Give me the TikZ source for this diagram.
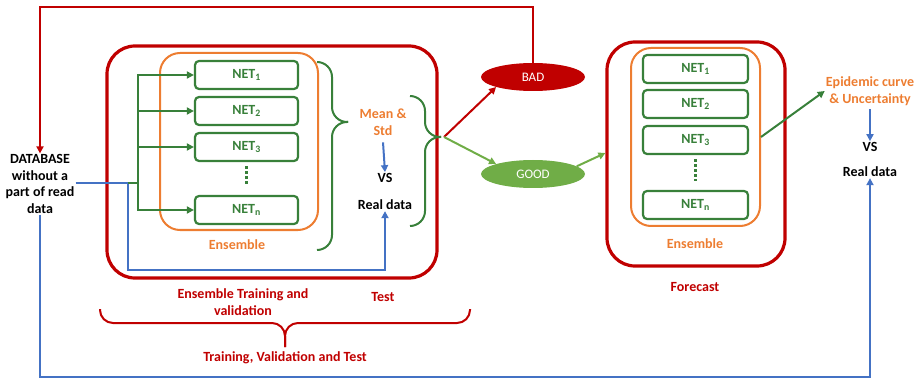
\documentclass[tikz,border=0pt]{standalone}
\usepackage{fontspec}
\setmainfont{Carlito}
\usepackage{tikz}
\usetikzlibrary{arrows.meta,positioning,shapes.geometric,calc}

\definecolor{myred}{HTML}{C00000}
\definecolor{myorange}{HTML}{ED7D31}
\definecolor{mygreen}{HTML}{38803A}
\definecolor{lightgreen}{HTML}{70AD47}
\definecolor{myblue}{HTML}{4472C4}

\begin{document}
\begin{tikzpicture}[
    x=1pt,
    y=-1pt,
    font=\fontsize{14}{16.5}\selectfont\bfseries,
    redbox/.style={draw=myred, line width=3.2pt, rounded corners=28pt},
    ensbox/.style={draw=myorange, line width=2pt, rounded corners=20pt},
    netbox/.style={draw=mygreen, line width=2.2pt, rounded corners=4pt, text=mygreen,
      minimum height=28pt, inner sep=0pt},
    dots/.style={mygreen, line width=3.6pt, dash pattern=on 3pt off 2pt},
    lab/.style={align=center, inner sep=1pt},
    tipstyle/.style={-{Triangle[length=7pt,width=7pt]}},
    garr/.style={mygreen, line width=2pt, tipstyle},
    barr/.style={myblue, line width=2pt, tipstyle},
    rarr/.style={myred, line width=2pt, tipstyle},
    larr/.style={lightgreen, line width=2pt, tipstyle},
    gbrace/.style={mygreen, line width=2pt, rounded corners=15pt},
    rbrace/.style={myred, line width=2pt, rounded corners=13pt},
    verdict/.style={ellipse, minimum width=104pt, minimum height=28pt, text=white,
      font=\fontsize{13}{15}\selectfont}
  ]
    \useasboundingbox (0,0) rectangle (917,379);

    % Database
    \node[lab] (db) at (40,184) {DATABASE\\without a\\part of read\\data};

    % Ensemble training and test
    \node[redbox, minimum width=330pt, minimum height=232pt] (box1) at (272,162) {};
    \node[ensbox, minimum width=158pt, minimum height=177pt] (ens1) at (239,141.5) {};
    \node[netbox, minimum width=103pt] (neta1) at (246.5,75) {NET\textsubscript{1}};
    \node[netbox, minimum width=103pt] (neta2) at (246.5,111) {NET\textsubscript{2}};
    \node[netbox, minimum width=103pt] (neta3) at (246.5,147) {NET\textsubscript{3}};
    \node[netbox, minimum width=103pt] (netan) at (246.5,210) {NET\textsubscript{n}};
    \draw[dots, shorten <=4pt, shorten >=9pt] (neta3.south) -- (netan.north);
    \node[lab, text=myorange] (enslab1) at (237,245) {Ensemble};

    \node[lab, text=myorange] (mean) at (383,122) {Mean \&\\Std};
    \node[lab] (vs1) at (385,178) {VS};
    \node[lab] (real1) at (385,205) {Real data};
    \draw[barr] (mean.south) ++(0,6) -- (vs1.north);

    \coordinate (split) at (128,183);
    \coordinate (fan) at (138,183);
    \coordinate (bluecorner) at (128,270);
    \draw[myblue, line width=2pt] (db.east |- split) -- (split);
    \draw[barr] (split) -- (bluecorner) -| (real1.south);
    \draw[mygreen, line width=2pt] (split) -- (fan);
    \foreach \n in {neta1,neta2,neta3,netan}
      \draw[garr] (fan) |- (\n.west);

    \draw[gbrace] (317,62) -- (332,62) -- (332,122) -- (348,122);
    \draw[gbrace] (348,122) -- (332,122) -- (332,250) -- (317,250);
    \draw[gbrace] (410,96) -- (425,96) -- (425,137) -- (441,137);
    \draw[gbrace] (441,137) -- (425,137) -- (425,226) -- (410,226);
    \coordinate (tip) at (444,137);

    \node[lab, text=myred] (trainlab) at (243,302) {Ensemble Training and\\validation};
    \node[lab, text=myred] (testlab) at (383,297) {Test};
    \draw[rbrace] (100,309) -- (100,323) -- (285,323) -- (285,347);
    \draw[rbrace] (470,309) -- (470,323) -- (285,323) -- (285,347);
    \node[lab, text=myred] (alllab) at (285,358) {Training, Validation and Test};

    % Verdict
    \node[verdict, fill=myred] (bad) at (533,77) {BAD};
    \node[verdict, fill=lightgreen] (good) at (533,174) {GOOD};
    \draw[rarr] (tip) -- (bad.south west);
    \draw[larr] (tip) -- (good.north west);
    \coordinate (topleft) at (40,7);
    \draw[rarr] (bad.north) |- (topleft) -- (db.north);

    % Forecast
    \node[redbox, minimum width=178pt, minimum height=224pt] (box2) at (696,154) {};
    \node[ensbox, minimum width=129pt, minimum height=178pt] (ens2) at (695.5,137) {};
    \node[netbox, minimum width=105pt] (netb1) at (695.5,69) {NET\textsubscript{1}};
    \node[netbox, minimum width=105pt] (netb2) at (695.5,104) {NET\textsubscript{2}};
    \node[netbox, minimum width=105pt] (netb3) at (695.5,140) {NET\textsubscript{3}};
    \node[netbox, minimum width=105pt] (netbn) at (695.5,205) {NET\textsubscript{n}};
    \draw[dots, shorten <=4pt, shorten >=9pt] (netb3.south) -- (netbn.north);
    \node[lab, text=myorange] (enslab2) at (695,244) {Ensemble};
    \node[lab, text=myred] (forelab) at (695,287) {Forecast};
    \draw[larr] (good.10) -- (box2.west |- 0,153);

    \node[lab, text=myorange] (epid) at (870,91) {Epidemic curve\\\& Uncertainty};
    \node[lab] (vs2) at (870,147) {VS};
    \node[lab] (real2) at (870,172) {Real data};
    \draw[barr] (epid.south) ++(0,3) -- (vs2.north);
    \draw[garr] (ens2.east |- 0,137) -- (epid.west);
    \coordinate (bottomright) at (870,377);
    \draw[barr] (db.south) |- (bottomright) -- (real2.south);
  \end{tikzpicture}
\end{document}
